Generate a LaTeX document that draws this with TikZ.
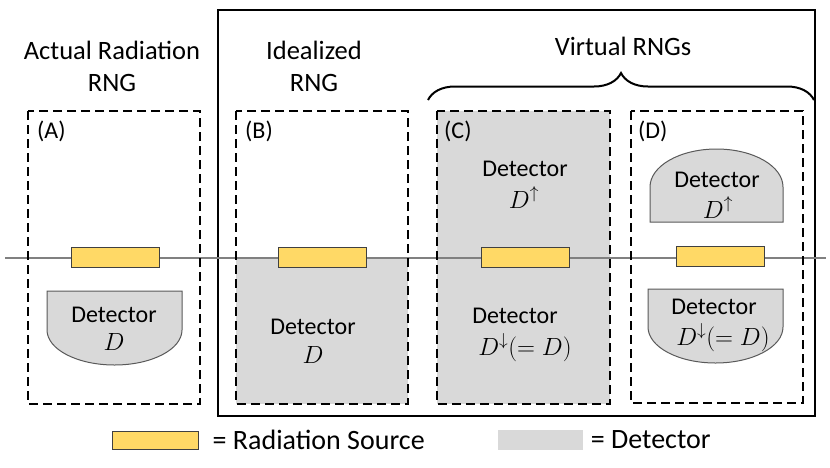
\documentclass[tikz,border=0pt]{standalone}
\usepackage{fontspec}
\setmainfont{Carlito}
\usetikzlibrary{decorations.pathreplacing, positioning}
\definecolor{srcyellow}{HTML}{FFD966}
\definecolor{detgray}{HTML}{D9D9D9}
\tikzstyle{rngbox} = [draw=black, line width=2.5pt, dash pattern=on 9pt off 5pt]
\tikzstyle{source} = [rectangle, minimum width=88pt, minimum height=20pt, draw=black!75, fill=srcyellow, line width=1pt, inner sep=0]
\tikzstyle{detector} = [draw=black!65, fill=detgray, line width=1pt]
\tikzstyle{heading} = [font=\fontsize{26.5}{32}\selectfont, align=center, inner sep=0]
\tikzstyle{keytext} = [font=\fontsize{28}{32}\selectfont, inner sep=0]
\tikzstyle{dettext} = [font=\fontsize{24}{29}\selectfont, anchor=base, inner sep=0]
\tikzstyle{detsym} = [font=\fontsize{25}{29}\selectfont, anchor=base, inner sep=0]
\tikzstyle{boxtag} = [font=\fontsize{24}{28}\selectfont, anchor=west, inner sep=0]

\begin{document}
\begin{tikzpicture}[x=1pt, y=-1pt]
\useasboundingbox (0,0) rectangle (830,467);

% detector areas of (B) and (C)
\fill [detgray] (236,258) rectangle (408,404);
\fill [detgray] (437,111) rectangle (610,404);

% virtual RNG frame
\draw [line width=2.5pt] (218,10) rectangle (815,416);

% axis through the sources
\draw [gray, line width=2pt] (5,258) -- (826,258);

% the four RNGs
\draw [rngbox] (28,111) rectangle (200,404);
\draw [rngbox] (236,111) rectangle (408,404);
\draw [rngbox] (437,111) rectangle (610,404);
\draw [rngbox] (631,111) rectangle (803,403);

\node (tagA) [boxtag] at (37,131) {(A)};
\node (tagB) [boxtag] at (245,131) {(B)};
\node (tagC) [boxtag] at (444,131) {(C)};
\node (tagD) [boxtag] at (638,131) {(D)};

\node (srcA) [source] at (115,257) {};
\node (srcB) [source] at (322,257) {};
\node (srcC) [source] at (525,257) {};
\node (srcD) [source] at (720,256) {};

% detector shapes
\draw [detector] (47,291) -- (182,291) -- (182,330)
      arc [start angle=0, end angle=-180, x radius=67.5pt, y radius=35pt] -- cycle;
\draw [detector] (650,222) -- (783,222) -- (783,187)
      arc [start angle=0, end angle=180, x radius=66.5pt, y radius=38pt] -- cycle;
\draw [detector] (648,289) -- (783,289) -- (783,327)
      arc [start angle=0, end angle=-180, x radius=67.5pt, y radius=36pt] -- cycle;

\node (detA) [dettext] at (114,322) {Detector};
\node (symA) [detsym] at (114,350) {$D$};
\node (detB) [dettext] at (313,334) {Detector};
\node (symB) [detsym] at (313,363) {$D$};
\node (detCup) [dettext] at (525,176) {Detector};
\node (symCup) [detsym] at (524,208) {$D^{\smash{\uparrow}}$};
\node (detCdown) [dettext] at (515,323) {Detector};
\node (symCdown) [detsym] at (525,355) {$D^{\downarrow}(=D)$};
\node (detDup) [dettext] at (717,187) {Detector};
\node (symDup) [detsym] at (718,218) {$D^{\smash{\uparrow}}$};
\node (detDdown) [dettext] at (714,314) {Detector};
\node (symDdown) [detsym] at (723,345) {$D^{\downarrow}(=D)$};

% headings
\node (actual) [heading] at (112,66) {Actual Radiation\\RNG};
\node (ideal) [heading] at (314,66) {Idealized\\RNG};
\node (virtual) [heading] at (623,46) {Virtual RNGs};
\draw [decorate, decoration={brace, amplitude=27pt}, line width=2pt] (428,100) -- (814,100);

% legend
\node (keysrc) [source, minimum width=86pt, minimum height=18pt] at (155,440) {};
\node (keysrctext) [keytext, right=14pt of keysrc] {= Radiation Source};
\node (keydet) [rectangle, fill=detgray, minimum width=85pt, minimum height=20pt, inner sep=0] at (540,440) {};
\node (keydettext) [keytext, right=8pt of keydet] {= Detector};

\end{tikzpicture}
\end{document}
